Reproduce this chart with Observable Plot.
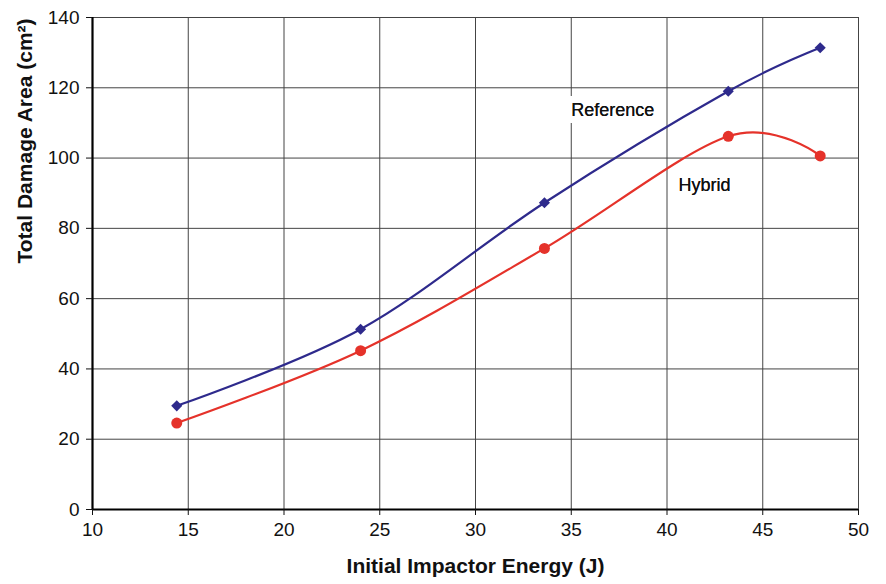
<!DOCTYPE html>
<html>
<head>
<meta charset="utf-8">
<script src="https://cdn.jsdelivr.net/npm/d3@7"></script>
<script src="https://cdn.jsdelivr.net/npm/@observablehq/plot@0.6"></script>
<style>
  html, body { margin: 0; padding: 0; background: #fff; }
  svg { font-family: "Liberation Sans", Arial, sans-serif; }
</style>
</head>
<body>
<div id="chart"></div>
<script>
const energy = [14.4, 24.0, 33.6, 43.2, 48.0];
const referenceArea = [29.5, 51.3, 87.3, 119.0, 131.4];
const hybridArea = [24.6, 45.2, 74.3, 106.2, 100.6];
const xTicks = [10, 15, 20, 25, 30, 35, 40, 45, 50];
const yTicks = [0, 20, 40, 60, 80, 100, 120, 140];
const seriesNames = ["Reference", "Hybrid"];
const seriesColors = ["#2e2a8c", "#e5322a"];
const labelX = [35.0, 40.6];
const labelY = [113.5, 92.2];

const refData = energy.map((e, i) => ({x: e, y: referenceArea[i]}));
const hybData = energy.map((e, i) => ({x: e, y: hybridArea[i]}));
const labels = seriesNames.map((n, i) => ({name: n, x: labelX[i], y: labelY[i]}));

const chart = Plot.plot({
  width: 886,
  height: 584,
  marginLeft: 92,
  marginRight: 28,
  marginTop: 17,
  marginBottom: 75,
  style: {fontFamily: "'Liberation Sans', Arial, sans-serif", fontSize: "19px", color: "#111"},
  x: {domain: [10, 50], ticks: xTicks},
  y: {domain: [0, 140], ticks: yTicks},
  marks: [
    Plot.gridX(xTicks, {stroke: "#444", strokeOpacity: 1, strokeWidth: 1}),
    Plot.gridY(yTicks, {stroke: "#444", strokeOpacity: 1, strokeWidth: 1}),
    Plot.text(labels, {x: "x", y: "y", text: "name", textAnchor: "start", fontSize: 18, fill: "#111", stroke: "white", strokeWidth: 14, strokeLinejoin: "miter"}),
    Plot.text(labels, {x: "x", y: "y", text: "name", textAnchor: "start", fontSize: 18, fill: "#111"}),
    Plot.ruleX([10], {stroke: "#000", strokeWidth: 2.2}),
    Plot.ruleY([0], {stroke: "#000", strokeWidth: 2.2}),
    Plot.axisX({ticks: xTicks, tickSize: 6, tickPadding: 7, fontSize: 19, tickFormat: d => d, label: null}),
    Plot.axisY({ticks: yTicks, tickSize: 6, tickPadding: 7, fontSize: 19, tickFormat: d => d, label: null}),
    Plot.line(refData, {x: "x", y: "y", stroke: seriesColors[0], strokeWidth: 2.2, curve: "cardinal"}),
    Plot.line(hybData, {x: "x", y: "y", stroke: seriesColors[1], strokeWidth: 2.2, curve: "cardinal"}),
    Plot.dot(refData, {x: "x", y: "y", symbol: "diamond2", fill: seriesColors[0], r: 5}),
    Plot.dot(hybData, {x: "x", y: "y", symbol: "circle", fill: seriesColors[1], r: 5.5}),
    Plot.text(["Initial Impactor Energy (J)"], {frameAnchor: "bottom", dy: 63, fontSize: 21, fontWeight: "bold", fill: "#111"}),
    Plot.text(["Total Damage Area (cm²)"], {frameAnchor: "left", dx: -67, rotate: -90, fontSize: 21, fontWeight: "bold", fill: "#111"})
  ]
});
document.getElementById("chart").append(chart);
</script>
</body>
</html>
